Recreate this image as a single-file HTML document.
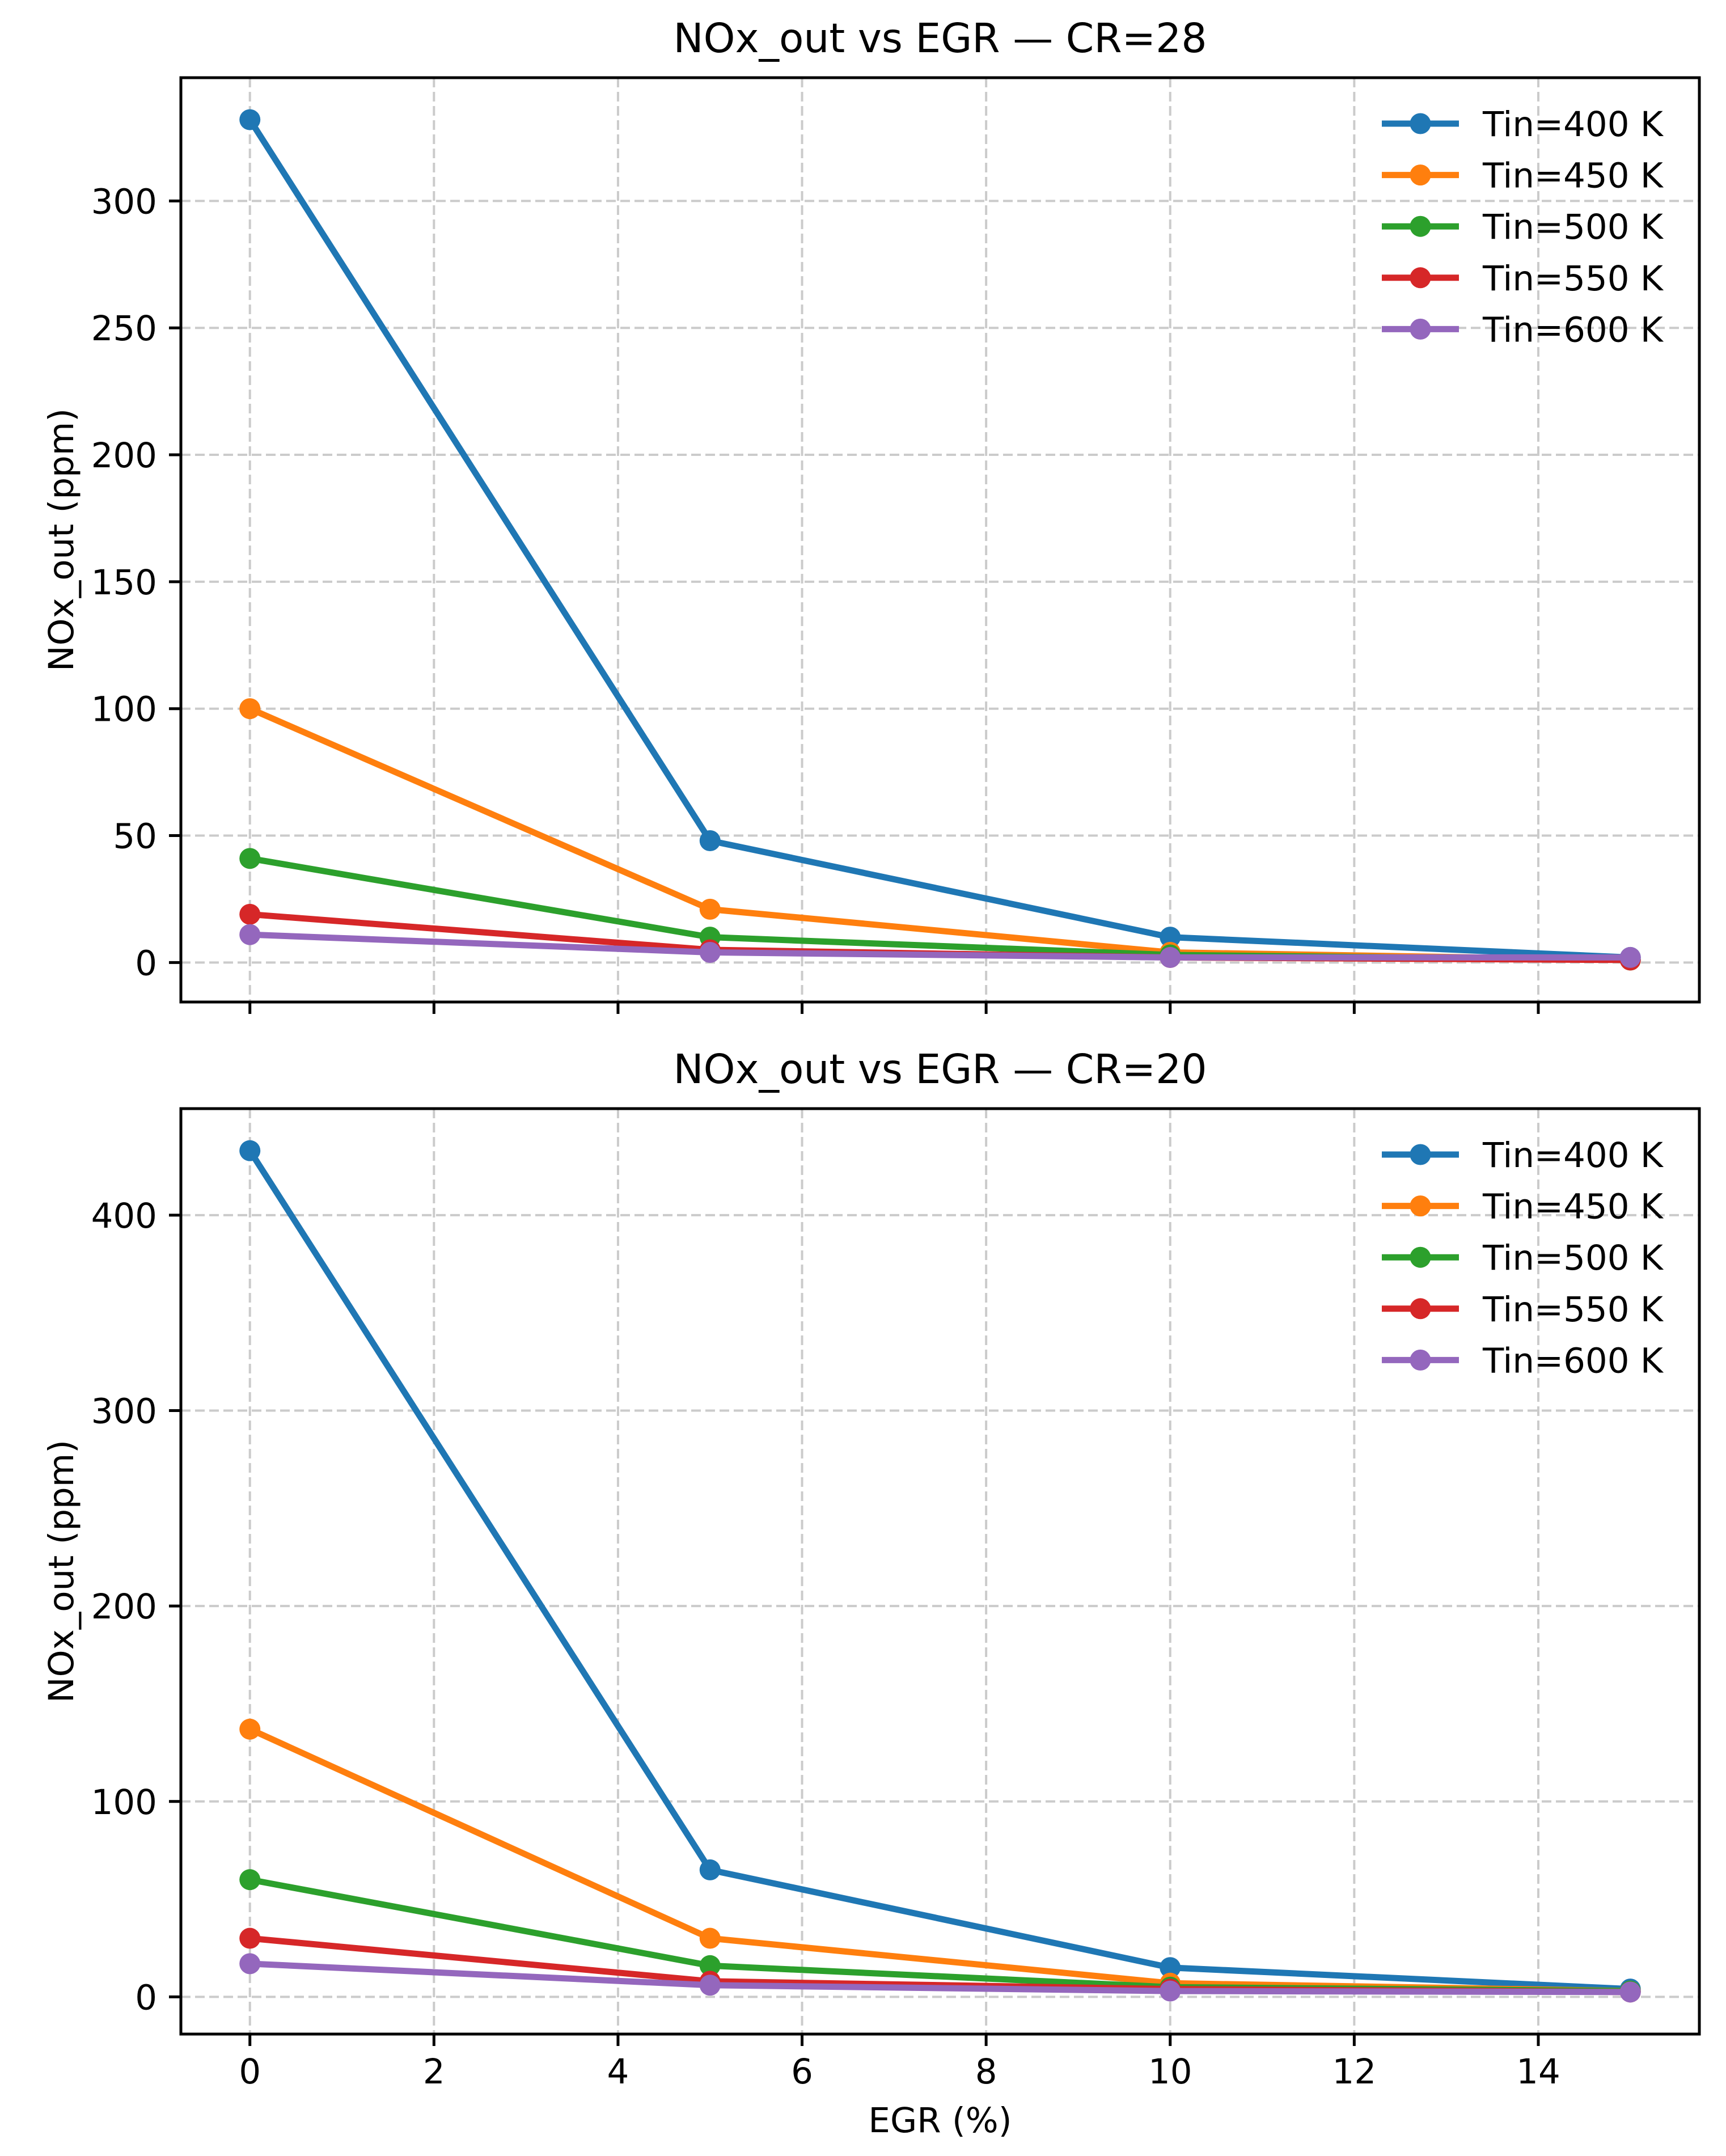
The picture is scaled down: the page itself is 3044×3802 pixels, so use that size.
<!DOCTYPE html>
<html><head><meta charset="utf-8"><style>
html,body{margin:0;padding:0;background:#fff;}
svg{display:block;font-family:"DejaVu Sans","Liberation Sans",sans-serif;}
</style></head>
<body>
<svg id="chart" width="3044" height="3802" viewBox="0 0 3044 3802" xmlns="http://www.w3.org/2000/svg"></svg>
<script>
const egr = [0, 5, 10, 15];
const seriesLabels = ["Tin=400 K","Tin=450 K","Tin=500 K","Tin=550 K","Tin=600 K"];
const cr28_400 = [332, 48, 10, 2];
const cr28_450 = [100, 21, 4, 1];
const cr28_500 = [41, 10, 3, 1];
const cr28_550 = [19, 5, 2, 1];
const cr28_600 = [11, 4, 2, 2];
const cr20_400 = [433, 65, 15, 4];
const cr20_450 = [137, 30, 7, 3];
const cr20_500 = [60, 16, 5, 3];
const cr20_550 = [30, 8, 4, 2.5];
const cr20_600 = [17, 6, 3, 2.5];
const xTicks = [0, 2, 4, 6, 8, 10, 12, 14];
const yTicks28 = [0, 50, 100, 150, 200, 250, 300];
const yTicks20 = [0, 100, 200, 300, 400];
const titles = ["NOx_out vs EGR \u2014 CR=28", "NOx_out vs EGR \u2014 CR=20"];

const colors = ["#1f77b4","#ff7f0e","#2ca02c","#d62728","#9467bd"];
const NS = "http://www.w3.org/2000/svg";
const svg = document.getElementById('chart');
function mk(tag, attrs, parent){const e=document.createElementNS(NS,tag);for(const k in attrs)e.setAttribute(k,attrs[k]);(parent||svg).appendChild(e);return e;}

const L=319, R=2997;
function makePanel(idx, top, bottom, series, yTicks, showXLabels){
  const g = mk('g',{});
  
  
  const all = [].concat(...series);
  const minV=Math.min(...all), maxV=Math.max(...all);
  const span=maxV-minV;
  const y0=minV-0.05*span, y1=maxV+0.05*span;
  const x0=-0.75, x1=15.75;
  const xs=v=>L+(v-x0)/(x1-x0)*(R-L);
  const ys=v=>bottom-(v-y0)/(y1-y0)*(bottom-top);
  xTicks.forEach(t=>{
    const l=mk('line',{x1:xs(t),x2:xs(t),y1:top,y2:bottom,stroke:'#cbcbcb','stroke-width':4,'stroke-dasharray':'17,8'},g);
    
    
  });
  yTicks.forEach(t=>{
    const l=mk('line',{x1:L,x2:R,y1:ys(t),y2:ys(t),stroke:'#cbcbcb','stroke-width':4,'stroke-dasharray':'17,8'},g);
    
    
  });
  series.forEach((s,i)=>{
    const pts=s.map((v,j)=>xs(egr[j])+','+ys(v)).join(' ');
    const pl=mk('polyline',{points:pts,fill:'none',stroke:colors[i],'stroke-width':11,'stroke-linejoin':'round','stroke-linecap':'round'},g);
    
    
    s.forEach((v,j)=>{
      const c=mk('circle',{cx:xs(egr[j]),cy:ys(v),r:18.5,fill:colors[i]},g);
      
      
    });
  });
  const fr=mk('rect',{x:L,y:top,width:R-L,height:bottom-top,fill:'none',stroke:'#000','stroke-width':5},g);
  
  
  xTicks.forEach(t=>{
    const l=mk('line',{x1:xs(t),x2:xs(t),y1:bottom,y2:bottom+21,stroke:'#000','stroke-width':5},g);
    
    
    if(showXLabels){
      const tx=mk('text',{x:xs(t),y:bottom+87,'font-size':61,'text-anchor':'middle',fill:'#000'},g);
      tx.textContent=t;
      
      
    }
  });
  yTicks.forEach(t=>{
    const l=mk('line',{x1:L-21,x2:L,y1:ys(t),y2:ys(t),stroke:'#000','stroke-width':5},g);
    
    
    const tx=mk('text',{x:277,y:ys(t)+22,'font-size':61,'text-anchor':'end',fill:'#000'},g);
    tx.textContent=t;
    
    
  });
  const cy=(top+bottom)/2;
  const yl=mk('text',{x:129,y:cy,'font-size':61,'text-anchor':'middle',fill:'#000',transform:'rotate(-90 129 '+cy+')'},g);
  yl.textContent='NOx_out (ppm)';
  
  
  const ti=mk('text',{x:(L+R)/2,y:top-45,'font-size':71,'text-anchor':'middle',fill:'#000'},g);
  ti.textContent=titles[idx];
  
  
  seriesLabels.forEach((lab,i)=>{
    const ry=top+81+i*90.6;
    const lg=mk('g',{},g);
    
    
    mk('line',{x1:2437,x2:2573,y1:ry,y2:ry,stroke:colors[i],'stroke-width':11},lg);
    mk('circle',{cx:2505,cy:ry,r:18.5,fill:colors[i]},lg);
    const t=mk('text',{x:2615,y:ry+22,'font-size':61,fill:'#000'},lg);
    t.textContent=lab;
  });
}
makePanel(0,137,1767,[cr28_400,cr28_450,cr28_500,cr28_550,cr28_600],yTicks28,false);
makePanel(1,1955,3587,[cr20_400,cr20_450,cr20_500,cr20_550,cr20_600],yTicks20,true);
const xl=mk('text',{x:1658,y:3760,'font-size':61,'text-anchor':'middle',fill:'#000'});
xl.textContent='EGR (%)';


</script>
</body></html>
